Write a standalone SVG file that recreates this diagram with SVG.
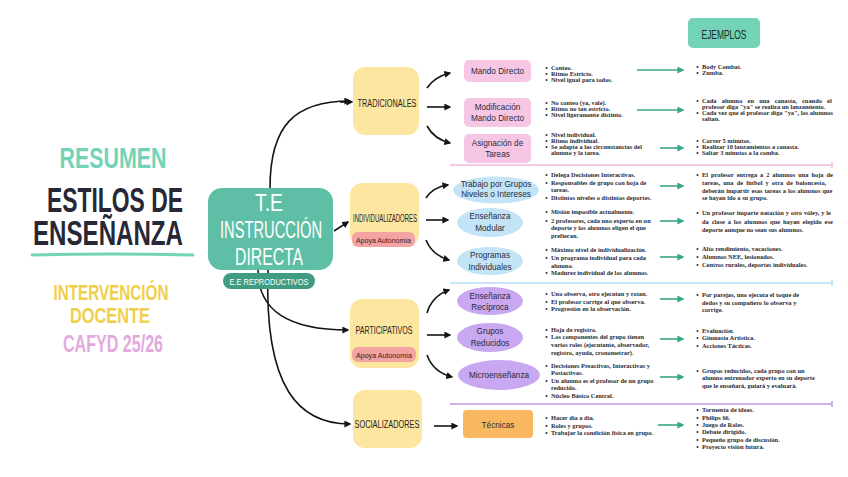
<svg xmlns="http://www.w3.org/2000/svg" width="848" height="477" viewBox="0 0 848 477">
<style>
.bg{fill:#ffffff}
.hw{font-family:"Liberation Sans","DejaVu Sans",sans-serif}
.sm{font-family:"Liberation Serif","DejaVu Serif",serif;font-size:6.4px;font-weight:bold;fill:#2b2b33}
.dot{fill:#2b2b33}
.cat{fill:#fde6a0}
.catt{font-family:"Liberation Sans",sans-serif;font-size:10px;fill:#2a2420}
.pill{fill:#f4a3a3}
.pillt{font-family:"Liberation Sans",sans-serif;font-size:7.5px;fill:#3a2020}
.pink{fill:#f8c6e5}
.blue{fill:#c2e4f6}
.purp{fill:#c7a8f1}
.orng{fill:#f9b85f}
.it{font-family:"Liberation Sans",sans-serif;font-size:8.2px;fill:#2a2a3a;text-anchor:middle}
.blk{fill:none;stroke:#151515;stroke-width:1.6}
.tl{fill:none;stroke:#3aa58a;stroke-width:1.6}
</style>
<defs>
<marker id="ah" viewBox="0 0 10 10" refX="8" refY="5" markerWidth="7" markerHeight="7" markerUnits="userSpaceOnUse" orient="auto"><path d="M0,0 L10,5 L0,10 z" fill="#151515"/></marker>
<marker id="at" viewBox="0 0 10 10" refX="8" refY="5" markerWidth="7" markerHeight="7" markerUnits="userSpaceOnUse" orient="auto"><path d="M0,0 L10,5 L0,10 z" fill="#3aa58a"/></marker>
</defs>
<rect class="bg" x="0" y="0" width="848" height="477"/>

<g id="title">
<text class="hw" x="113" y="168" font-size="29" font-weight="bold" fill="#72d3b6" text-anchor="middle" textLength="107" lengthAdjust="spacingAndGlyphs">RESUMEN</text>
<text class="hw" x="115" y="212" font-size="35" font-weight="bold" fill="#272736" text-anchor="middle" textLength="136" lengthAdjust="spacingAndGlyphs">ESTILOS DE</text>
<text class="hw" x="108" y="245" font-size="35" font-weight="bold" fill="#272736" text-anchor="middle" textLength="150" lengthAdjust="spacingAndGlyphs">ENSEÑANZA</text>
<path d="M32,255 Q110,253 193,255" fill="none" stroke="#72d3b6" stroke-width="3" stroke-linecap="round"/>
<text class="hw" x="111" y="300" font-size="22" font-weight="bold" fill="#f0cf4a" text-anchor="middle" textLength="115" lengthAdjust="spacingAndGlyphs">INTERVENCIÓN</text>
<text class="hw" x="110" y="323" font-size="22" font-weight="bold" fill="#f0cf4a" text-anchor="middle" textLength="80" lengthAdjust="spacingAndGlyphs">DOCENTE</text>
<text class="hw" x="113" y="352" font-size="23" font-weight="bold" fill="#e3a9dd" text-anchor="middle" textLength="100" lengthAdjust="spacingAndGlyphs">CAFYD 25/26</text>
</g>

<g id="ejemplos">
<rect x="688" y="18" width="72" height="30" rx="5" fill="#72d3b6"/>
<text class="hw" x="724" y="39" font-size="12" fill="#1f2a2a" text-anchor="middle" textLength="45" lengthAdjust="spacingAndGlyphs">EJEMPLOS</text>
</g>

<g id="connectors">
<path class="blk" d="M270,188 C270,125 295,101 350,101" marker-end="url(#ah)"/>
<path class="blk" d="M334,231 L348,222" marker-end="url(#ah)"/>
<path class="blk" d="M258,270 C258,312 290,330 348,330" marker-end="url(#ah)"/>
<path class="blk" d="M268,270 C264,390 300,424 350,424" marker-end="url(#ah)"/>
<path class="blk" d="M340,102 L352,102" marker-end="url(#ah)"/>
<path class="blk" d="M427,88 Q434,77 450,73" marker-end="url(#ah)"/>
<path class="blk" d="M427,107 L450,107" marker-end="url(#ah)"/>
<path class="blk" d="M427,126 Q434,139 450,143" marker-end="url(#ah)"/>
<path class="blk" d="M426,198 Q433,187 448,185" marker-end="url(#ah)"/>
<path class="blk" d="M426,220 L448,220" marker-end="url(#ah)"/>
<path class="blk" d="M426,240 Q432,255 449,260" marker-end="url(#ah)"/>
<path class="blk" d="M427,313 Q432,296 449,290" marker-end="url(#ah)"/>
<path class="blk" d="M427,335 L450,335" marker-end="url(#ah)"/>
<path class="blk" d="M427,355 Q433,372 452,377" marker-end="url(#ah)"/>
<path class="blk" d="M434,426 L457,426" marker-end="url(#ah)"/>
<path class="tl" d="M637,70 L683,70" marker-end="url(#at)"/>
<path class="tl" d="M637,110 L683,110" marker-end="url(#at)"/>
<path class="tl" d="M660,148 L683,148" marker-end="url(#at)"/>
<path class="tl" d="M660,186 L683,186" marker-end="url(#at)"/>
<path class="tl" d="M660,221 L683,221" marker-end="url(#at)"/>
<path class="tl" d="M660,257 L683,257" marker-end="url(#at)"/>
<path class="tl" d="M660,299 L683,299" marker-end="url(#at)"/>
<path class="tl" d="M660,339 L683,339" marker-end="url(#at)"/>
<path class="tl" d="M660,377 L683,377" marker-end="url(#at)"/>
<path class="tl" d="M658,425 L683,425" marker-end="url(#at)"/>
</g>

<g id="separators">
<path d="M450,165 L832,165 M832,162 L832,168" stroke="#f3b9dc" stroke-width="1.5" fill="none"/>
<path d="M450,283 L832,283 M832,280 L832,286" stroke="#b9ddef" stroke-width="1.5" fill="none"/>
<path d="M450,404 L832,404 M832,401 L832,407" stroke="#b89ae8" stroke-width="1.5" fill="none"/>
</g>

<g id="center">
<rect x="208" y="188" width="125" height="82" rx="14" fill="#5fbfa6"/>
<text class="hw" x="269" y="211" font-size="23" fill="#ffffff" text-anchor="middle" textLength="28" lengthAdjust="spacingAndGlyphs">T.E</text>
<text class="hw" x="271" y="238" font-size="23" fill="#ffffff" text-anchor="middle" textLength="102" lengthAdjust="spacingAndGlyphs">INSTRUCCIÓN</text>
<text class="hw" x="269" y="265" font-size="23" fill="#ffffff" text-anchor="middle" textLength="68" lengthAdjust="spacingAndGlyphs">DIRECTA</text>
<rect x="223" y="273" width="92" height="16" rx="8" fill="#3f9c82"/>
<text class="hw" x="269" y="285" font-size="9" fill="#ffffff" text-anchor="middle" textLength="79" lengthAdjust="spacingAndGlyphs">E.E REPRODUCTIVOS</text>
</g>

<g id="tradicionales">
<rect class="cat" x="353" y="67" width="66" height="68" rx="12"/>
<text class="catt" x="387" y="107" text-anchor="middle" textLength="59" lengthAdjust="spacingAndGlyphs">TRADICIONALES</text>
</g>
<g id="individualizadores">
<rect class="cat" x="350" y="183" width="69" height="63" rx="12"/>
<text class="catt" x="385" y="222" text-anchor="middle" textLength="64" lengthAdjust="spacingAndGlyphs">INDIVIDUALIZADORES</text>
<rect class="pill" x="352" y="232" width="63" height="15" rx="6"/>
<text class="pillt" x="383.5" y="243" text-anchor="middle" textLength="55" lengthAdjust="spacingAndGlyphs">Apoya Autonomía</text>
</g>
<g id="participativos">
<rect class="cat" x="350" y="299" width="69" height="69" rx="12"/>
<text class="catt" x="384" y="334" text-anchor="middle" textLength="57" lengthAdjust="spacingAndGlyphs">PARTICIPATIVOS</text>
<rect class="pill" x="352" y="347" width="64" height="15" rx="6"/>
<text class="pillt" x="384" y="358" text-anchor="middle" textLength="56" lengthAdjust="spacingAndGlyphs">Apoya Autonomía</text>
</g>
<g id="socializadores">
<rect class="cat" x="353" y="390" width="69" height="58" rx="12"/>
<text class="catt" x="387" y="428" text-anchor="middle" textLength="65" lengthAdjust="spacingAndGlyphs">SOCIALIZADORES</text>
</g>

<g id="mando-directo">
<rect class="pink" x="464" y="60" width="67" height="22" rx="5"/>
<text class="it" x="497.5" y="74">Mando Directo</text>
</g>
<g id="modificacion">
<rect class="pink" x="464" y="98" width="67" height="29" rx="5"/>
<text class="it" x="497.5" y="110">Modificación</text>
<text class="it" x="497.5" y="121">Mando Directo</text>
</g>
<g id="asignacion">
<rect class="pink" x="464" y="134" width="67" height="29" rx="5"/>
<text class="it" x="497.5" y="146">Asignación de</text>
<text class="it" x="497.5" y="157">Tareas</text>
</g>
<g id="trabajo-grupos">
<ellipse class="blue" cx="496" cy="190" rx="43" ry="13.5"/>
<text class="it" x="496" y="187" font-size="7.5">Trabajo por Grupos</text>
<text class="it" x="496" y="197" font-size="7.5">Niveles o Intereses</text>
</g>
<g id="ensenanza-modular">
<ellipse class="blue" cx="490" cy="222.5" rx="33" ry="14.5"/>
<text class="it" x="490" y="219">Enseñanza</text>
<text class="it" x="490" y="231">Modular</text>
</g>
<g id="programas-individuales">
<ellipse class="blue" cx="490" cy="261" rx="33" ry="14"/>
<text class="it" x="490" y="258">Programas</text>
<text class="it" x="490" y="270">Individuales</text>
</g>
<g id="ensenanza-reciproca">
<ellipse class="purp" cx="490" cy="301" rx="33" ry="14"/>
<text class="it" x="490" y="299">Enseñanza</text>
<text class="it" x="490" y="310">Recíproca</text>
</g>
<g id="grupos-reducidos">
<ellipse class="purp" cx="490" cy="337.5" rx="33" ry="14.5"/>
<text class="it" x="490" y="334">Grupos</text>
<text class="it" x="490" y="346">Reducidos</text>
</g>
<g id="microensenanza">
<ellipse class="purp" cx="499" cy="375" rx="41" ry="15"/>
<text class="it" x="499" y="378">Microenseñanza</text>
</g>
<g id="tecnicas">
<rect class="orng" x="463" y="410" width="70" height="28" rx="4"/>
<text class="it" x="498" y="428" font-size="9.5">Técnicas</text>
</g>

<g id="descriptions">
<g class="dot">
<circle cx="546.5" cy="68" r="1"/><circle cx="546.5" cy="74" r="1"/><circle cx="546.5" cy="80" r="1"/>
<circle cx="546.5" cy="103" r="1"/><circle cx="546.5" cy="109" r="1"/><circle cx="546.5" cy="115" r="1"/>
<circle cx="546.5" cy="135" r="1"/><circle cx="546.5" cy="141" r="1"/><circle cx="546.5" cy="147" r="1"/>
<circle cx="546.5" cy="175" r="1"/><circle cx="546.5" cy="183" r="1"/><circle cx="546.5" cy="198" r="1"/>
<circle cx="546.5" cy="212" r="1"/><circle cx="546.5" cy="221" r="1"/>
<circle cx="546.5" cy="250" r="1"/><circle cx="546.5" cy="258" r="1"/><circle cx="546.5" cy="273" r="1"/>
<circle cx="546.5" cy="294" r="1"/><circle cx="546.5" cy="302" r="1"/><circle cx="546.5" cy="309" r="1"/>
<circle cx="546.5" cy="330" r="1"/><circle cx="546.5" cy="337" r="1"/>
<circle cx="546.5" cy="366" r="1"/><circle cx="546.5" cy="381" r="1"/><circle cx="546.5" cy="396" r="1"/>
<circle cx="546.5" cy="418" r="1"/><circle cx="546.5" cy="426" r="1"/><circle cx="546.5" cy="433" r="1"/>
</g>
<text class="sm" x="551" y="70">Conteo.</text>
<text class="sm" x="551" y="76">Ritmo Estricto.</text>
<text class="sm" x="551" y="82">Nivel igual para todos.</text>
<text class="sm" x="551" y="105">No conteo (ya, vale).</text>
<text class="sm" x="551" y="111">Ritmo no tan estricto.</text>
<text class="sm" x="551" y="117">Nivel ligeramente distinto.</text>
<text class="sm" x="551" y="137">Nivel individual.</text>
<text class="sm" x="551" y="143">Ritmo individual.</text>
<text class="sm" x="551" y="149">Se adapta a las circunstancias del</text>
<text class="sm" x="551" y="154.5">alumno y la tarea.</text>
<text class="sm" x="551" y="177">Delega Decisiones Interactivas.</text>
<text class="sm" x="551" y="185">Responsables de grupo con hoja de</text>
<text class="sm" x="551" y="192">tareas.</text>
<text class="sm" x="551" y="200">Distintos niveles o distintos deportes.</text>
<text class="sm" x="551" y="214">Misión imposible actualmente.</text>
<text class="sm" x="551" y="223">2 profesores, cada uno experto en un</text>
<text class="sm" x="551" y="230">deporte y los alumnos eligen el que</text>
<text class="sm" x="551" y="238">prefieran.</text>
<text class="sm" x="551" y="252">Máximo nivel de individualización.</text>
<text class="sm" x="551" y="260">Un programa individual para cada</text>
<text class="sm" x="551" y="268">alumno.</text>
<text class="sm" x="551" y="275">Madurez individual de los alumnos.</text>
<text class="sm" x="551" y="296">Uno observa, otro ejecutan y rotan.</text>
<text class="sm" x="551" y="304">El profesor corrige al que observa.</text>
<text class="sm" x="551" y="311">Progresión en la observación.</text>
<text class="sm" x="551" y="332">Hoja de registro.</text>
<text class="sm" x="551" y="339">Los componentes del grupo tienen</text>
<text class="sm" x="551" y="347">varios roles (ejecutante, observador,</text>
<text class="sm" x="551" y="355">registro, ayuda, cronometrar).</text>
<text class="sm" x="551" y="368">Decisiones Preactivas, Interactivas y</text>
<text class="sm" x="551" y="375">Postactivas.</text>
<text class="sm" x="551" y="383">Un alumno es el profesor de un grupo</text>
<text class="sm" x="551" y="390">reducido.</text>
<text class="sm" x="551" y="398">Núcleo Básico Central.</text>
<text class="sm" x="551" y="420">Hacer día a día.</text>
<text class="sm" x="551" y="428">Roles y grupos.</text>
<text class="sm" x="551" y="435">Trabajar la condición física en grupo.</text>
</g>

<g id="examples">
<g class="dot">
<circle cx="697.5" cy="67" r="1"/><circle cx="697.5" cy="73" r="1"/>
<circle cx="697.5" cy="101" r="1"/><circle cx="697.5" cy="113" r="1"/>
<circle cx="697.5" cy="141" r="1"/><circle cx="697.5" cy="147" r="1"/><circle cx="697.5" cy="153" r="1"/>
<circle cx="697.5" cy="175" r="1"/>
<circle cx="697.5" cy="213" r="1"/>
<circle cx="697.5" cy="249" r="1"/><circle cx="697.5" cy="257" r="1"/><circle cx="697.5" cy="265" r="1"/>
<circle cx="697.5" cy="295" r="1"/>
<circle cx="697.5" cy="331" r="1"/><circle cx="697.5" cy="338" r="1"/><circle cx="697.5" cy="346" r="1"/>
<circle cx="697.5" cy="371" r="1"/>
<circle cx="697.5" cy="410" r="1"/><circle cx="697.5" cy="418" r="1"/><circle cx="697.5" cy="425" r="1"/><circle cx="697.5" cy="432" r="1"/><circle cx="697.5" cy="440" r="1"/><circle cx="697.5" cy="447" r="1"/>
</g>
<text class="sm" x="702" y="69">Body Combat.</text>
<text class="sm" x="702" y="75">Zumba.</text>
<text class="sm" x="702" y="103" word-spacing="3.6">Cada alumno en una canasta, cuando el</text>
<text class="sm" x="702" y="109">profesor diga "ya" se realiza un lanzamiento.</text>
<text class="sm" x="702" y="115">Cada vez que el profesor diga "ya", los alumnos</text>
<text class="sm" x="702" y="120.5">saltan.</text>
<text class="sm" x="702" y="143">Correr 5 minutos.</text>
<text class="sm" x="702" y="149">Realizar 10 lanzamientos a canasta.</text>
<text class="sm" x="702" y="155">Saltar 3 minutos a la comba.</text>
<text class="sm" x="702" y="177" word-spacing="1.3">El profesor entrega a 2 alumnos una hoja de</text>
<text class="sm" x="702" y="185" word-spacing="1.5">tareas, una de fútbol y otra de baloncesto,</text>
<text class="sm" x="702" y="193" word-spacing="0.3">deberán impartir esas tareas a los alumnos que</text>
<text class="sm" x="702" y="200">se hayan ido a su grupo.</text>
<text class="sm" x="702" y="215" word-spacing="0.3">Un profesor imparte natación y otro vóley, y le</text>
<text class="sm" x="702" y="224" word-spacing="1.3">da clase a los alumnos que hayan elegido ese</text>
<text class="sm" x="702" y="232">deporte aunque no sean sus alumnos.</text>
<text class="sm" x="702" y="251">Alto rendimiento, vacaciones.</text>
<text class="sm" x="702" y="259">Alumnos NEE, lesionados.</text>
<text class="sm" x="702" y="267">Centros rurales, deportes individuales.</text>
<text class="sm" x="702" y="297">Por parejas, uno ejecuta el toque de</text>
<text class="sm" x="702" y="305">dedos y su compañero lo observa y</text>
<text class="sm" x="702" y="312">corrige.</text>
<text class="sm" x="702" y="333">Evaluación.</text>
<text class="sm" x="702" y="340">Gimnasia Artística.</text>
<text class="sm" x="702" y="348">Acciones Tácticas.</text>
<text class="sm" x="702" y="373">Grupos reducidos, cada grupo con un</text>
<text class="sm" x="702" y="380">alumno entrenador experto en su deporte</text>
<text class="sm" x="702" y="388">que le enseñará, guiará y evaluará.</text>
<text class="sm" x="702" y="412">Tormenta de ideas.</text>
<text class="sm" x="702" y="420">Philips 66.</text>
<text class="sm" x="702" y="427">Juego de Roles.</text>
<text class="sm" x="702" y="434">Debate dirigido.</text>
<text class="sm" x="702" y="442">Pequeño grupo de discusión.</text>
<text class="sm" x="702" y="449">Proyecto visión futura.</text>
</g>
</svg>
